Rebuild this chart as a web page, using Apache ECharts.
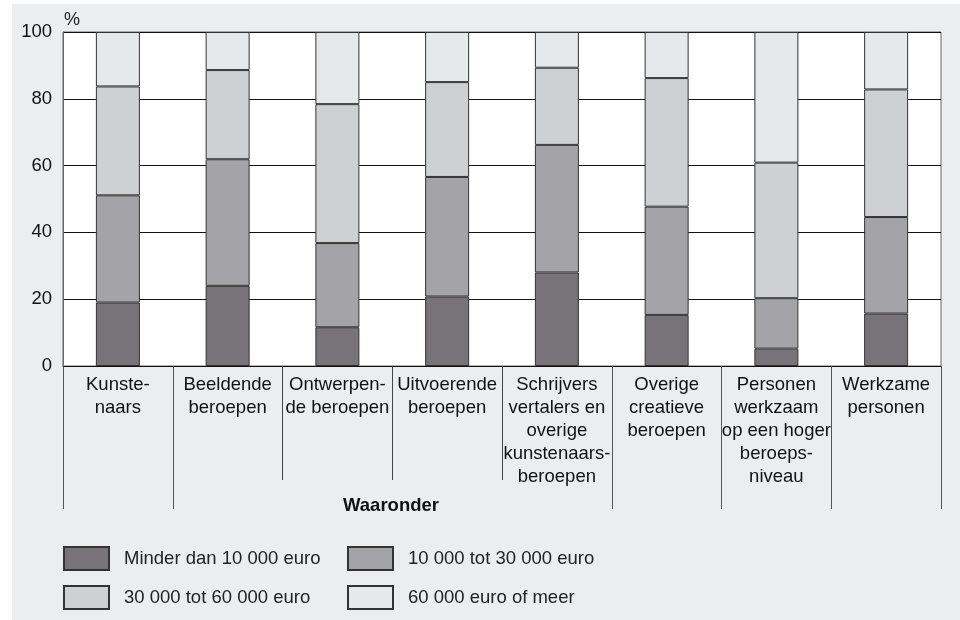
<!DOCTYPE html>
<html lang="nl">
<head>
  <meta charset="UTF-8">
  <title>Inkomen creatieve beroepen</title>
  <style>
    body{
      margin: 0;
      background: white;
    }
    .chart{
      position: absolute;
      left: 12px;
      top: 4px;
      width: 948px;
      height: 616px;
      background: #ecedef;
    }
  </style>
</head>
<body>
<div class="chart"></div>
<script src="https://cdn.jsdelivr.net/npm/echarts@6/dist/echarts.min.js"></script>
<script>
  const categories = [
    'Kunste-\nnaars',
    'Beeldende\nberoepen',
    'Ontwerpen-\nde beroepen',
    'Uitvoerende\nberoepen',
    'Schrijvers\nvertalers en\noverige\nkunstenaars-\nberoepen',
    'Overige\ncreatieve\nberoepen',
    'Personen\nwerkzaam\nop een hoger\nberoeps-\nniveau',
    'Werkzame\npersonen'
  ];
  const seriesNames = [
    'Minder dan 10 000 euro',
    '10 000 tot 30 000 euro',
    '30 000 tot 60 000 euro',
    '60 000 euro of meer'
  ];
  const under10k = [19, 24, 11.6, 20.8, 28, 15.3, 5.2, 15.7];
  const from10to30k = [32.1, 37.9, 25.2, 35.8, 38.2, 32.4, 15.1, 28.9];
  const from30to60k = [32.6, 26.7, 41.6, 28.4, 23.1, 38.5, 40.6, 38.2];
  const over60k = [16.3, 11.4, 21.6, 15, 10.7, 13.8, 39.1, 17.2];
  const yTicks = [0, 20, 40, 60, 80, 100];
  // categories 1..4 fall under "Waaronder", their separators are shorter
  const subGroup = [1, 2, 3, 4];

  const colors = ['#767479', '#a4a3a7', '#cfd0d2', '#e7e8ea'];
  const font = "'Liberation Sans', Arial, sans-serif";
  const fs = 18.5;

  const container = document.querySelector('.chart');
  const instance = echarts.init(container);

  const values = [under10k, from10to30k, from30to60k, over60k];

  const legendBase = {
    orient: 'vertical',
    top: 542,
    padding: 0,
    icon: 'rect',
    itemWidth: 45,
    itemHeight: 23,
    itemGap: 14,
    textStyle: {fontSize: fs, color: '#222', padding: [0, 0, 0, 10], fontFamily: font}
  };

  const option = {
    animation: false,
    textStyle: {fontFamily: font},
    title: {
      text: 'Waaronder',
      left: 379,
      top: 492,
      padding: 0,
      textAlign: 'center',
      textStyle: {fontSize: fs, fontWeight: 'bold', color: '#111', fontFamily: font}
    },
    legend: [
      Object.assign({}, legendBase, {data: [seriesNames[0], seriesNames[2]], left: 51}),
      Object.assign({}, legendBase, {data: [seriesNames[1], seriesNames[3]], left: 335})
    ],
    grid: {
      left: 51,
      right: 19,
      top: 28,
      bottom: 254,
      show: true,
      backgroundColor: '#fff',
      borderColor: '#666',
      borderWidth: 1
    },
    xAxis: [
      {
        type: 'category',
        data: categories,
        axisLine: {lineStyle: {color: '#111', width: 1}},
        axisTick: {show: true, length: 114, lineStyle: {color: '#444', width: 1}},
        axisLabel: {
          interval: 0,
          margin: 7,
          fontSize: fs,
          lineHeight: 23,
          color: '#111',
          align: 'center'
        }
      },
      {
        type: 'category',
        data: categories,
        position: 'bottom',
        axisLine: {show: false},
        axisTick: {
          show: true,
          length: 143,
          lineStyle: {color: '#555', width: 1},
          interval: function (index) {
            return subGroup.indexOf(index) < 0 || index === subGroup[0];
          }
        },
        axisLabel: {show: false}
      }
    ],
    yAxis: {
      type: 'value',
      min: yTicks[0],
      max: yTicks[yTicks.length - 1],
      interval: 20,
      name: '%',
      nameLocation: 'end',
      nameGap: 3,
      nameTextStyle: {align: 'left', fontSize: 18, color: '#222', padding: [0, 0, 0, 1]},
      axisLine: {show: true, lineStyle: {color: '#666'}},
      axisTick: {show: false},
      axisLabel: {fontSize: fs, color: '#111', margin: 11},
      splitLine: {lineStyle: {color: '#111', width: 1}}
    },
    series: seriesNames.map((name, i) => ({
      name: name,
      type: 'bar',
      stack: 'total',
      barWidth: 44,
      itemStyle: {color: colors[i], borderColor: '#333', borderWidth: 1},
      data: values[i]
    }))
  };
  instance.setOption(option);
</script>
</body>
</html>
